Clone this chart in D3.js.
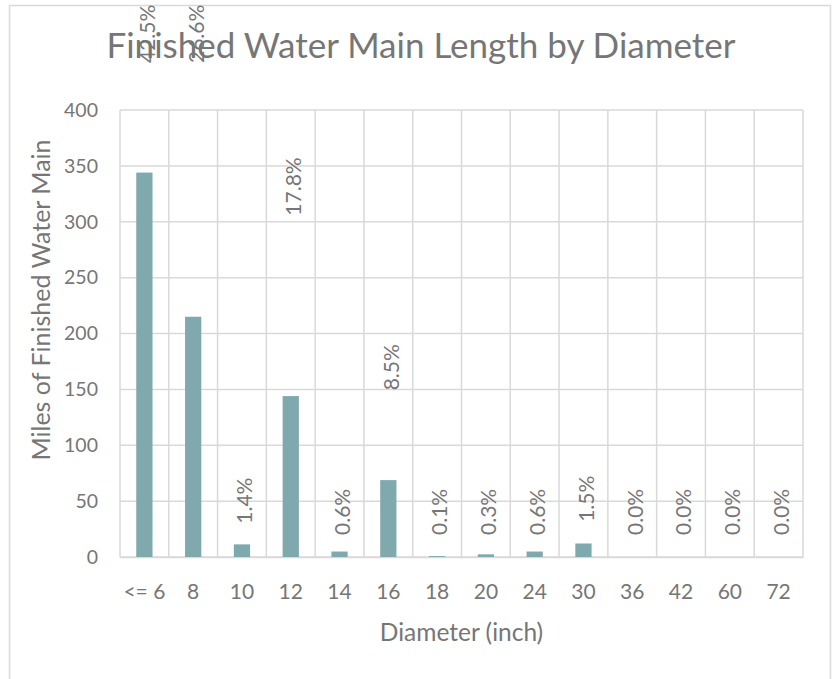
<!DOCTYPE html>
<html>
<head>
<meta charset="utf-8">
<script src="https://cdn.jsdelivr.net/npm/d3@7"></script>
<style>
  body { margin: 0; background: #fff; }
  text { font-family: Lato, "Open Sans", sans-serif; fill: #767676; }
</style>
</head>
<body>
<svg width="832" height="679"></svg>
<script>
// data
var diameters = ["<= 6", "8", "10", "12", "14", "16", "18", "20", "24", "30", "36", "42", "60", "72"];
var miles = [344, 215, 11.3, 144, 4.9, 68.8, 0.8, 2.4, 4.9, 12.1, 0, 0, 0, 0];
var pctLabels = [42.5, 26.6, 1.4, 17.8, 0.6, 8.5, 0.1, 0.3, 0.6, 1.5, 0.0, 0.0, 0.0, 0.0];
var yTicks = [0, 50, 100, 150, 200, 250, 300, 350, 400];

var svg = d3.select("svg");
var margin = {left: 120, top: 110, right: 29, bottom: 122};
var width = svg.attr("width") - margin.left - margin.right;
var height = svg.attr("height") - margin.top - margin.bottom;

// chart border
svg.append("rect")
    .attr("x", 9.5).attr("y", 5.5)
    .attr("width", 821).attr("height", 690)
    .attr("fill", "none")
    .attr("stroke", "#d9d9d9")
    .attr("stroke-width", 1.5);

var x = d3.scaleBand().domain(diameters).range([0, width]).paddingInner(0).paddingOuter(0);
var y = d3.scaleLinear().domain([0, 400]).range([height, 0]);
// labels sit on a hidden percent axis
var yPct = d3.scaleLinear().domain([0, 23.8]).range([height, 0]);

var g = svg.append("g").attr("transform", "translate(" + margin.left + "," + margin.top + ")");

// horizontal grid
g.selectAll(".hgrid")
    .data(yTicks)
    .enter().append("line")
    .attr("x1", 0).attr("x2", width)
    .attr("y1", function(d) { return y(d); })
    .attr("y2", function(d) { return y(d); })
    .attr("stroke", "#d9d9d9")
    .attr("stroke-width", 1.5);

// vertical grid (category boundaries)
var bounds = diameters.map(function(d) { return x(d); }).concat([width]);
g.selectAll(".vgrid")
    .data(bounds)
    .enter().append("line")
    .attr("x1", function(d) { return d; })
    .attr("x2", function(d) { return d; })
    .attr("y1", 0).attr("y2", height)
    .attr("stroke", "#d9d9d9")
    .attr("stroke-width", 1.5);

// y axis labels
var yaxis = g.append("g")
    .call(d3.axisLeft(y).tickValues(yTicks).tickSize(0).tickPadding(22));
yaxis.select(".domain").remove();
yaxis.selectAll("text")
    .style("font-size", "19.5px")
    .style("font-family", "Lato, sans-serif")
    .attr("fill", "#767676");

// x axis labels
var xaxis = g.append("g")
    .attr("transform", "translate(0," + height + ")")
    .call(d3.axisBottom(x).tickSize(0).tickPadding(27));
xaxis.select(".domain")
    .attr("stroke", "#d9d9d9")
    .attr("stroke-width", 1.5);
xaxis.selectAll("text")
    .style("font-size", "21px")
    .style("font-family", "Lato, sans-serif")
    .attr("fill", "#767676");

// bars, about a third of the band
var barW = x.bandwidth() / 3;
g.selectAll(".bar")
    .data(miles)
    .enter().append("rect")
    .attr("class", "bar")
    .attr("x", function(d, i) { return x(diameters[i]) + x.bandwidth() / 2 - barW / 2; })
    .attr("y", function(d) { return y(d); })
    .attr("width", barW)
    .attr("height", function(d) { return height - y(d); })
    .attr("fill", "#80a9ae");

// percent labels, rotated
g.selectAll(".lbl")
    .data(pctLabels)
    .enter().append("text")
    .attr("class", "lbl")
    .attr("text-anchor", "start")
    .attr("dy", "0.35em")
    .style("font-size", "21px")
    .attr("transform", function(d, i) {
        var cx = x(diameters[i]) + x.bandwidth() / 2 + 3;
        var yb = yPct(d) - 7;
        yb = Math.min(yb, height - 22);
        yb = Math.max(yb, -47);
        return "translate(" + cx + "," + yb + ") rotate(-90)";
    })
    .text(function(d) { return d.toFixed(1) + "%"; });

// title
svg.append("text")
    .attr("x", 421)
    .attr("y", 58)
    .attr("text-anchor", "middle")
    .style("font-size", "35px")
    .text("Finished Water Main Length by Diameter");

// axis titles
svg.append("text")
    .attr("x", margin.left + width / 2)
    .attr("y", 641)
    .attr("text-anchor", "middle")
    .style("font-size", "24.5px")
    .text("Diameter (inch)");

svg.append("text")
    .attr("transform", "translate(50,300) rotate(-90)")
    .attr("text-anchor", "middle")
    .style("font-size", "25px")
    .text("Miles of Finished Water Main");
</script>
</body>
</html>
